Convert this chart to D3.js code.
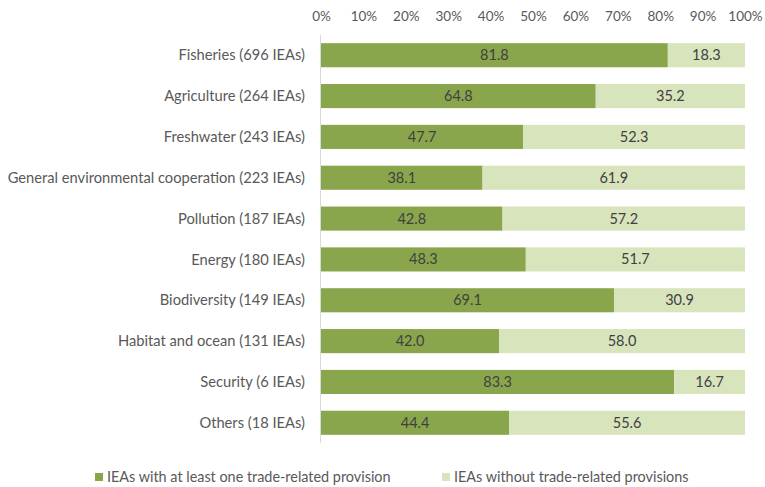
<!DOCTYPE html>
<html>
<head>
<meta charset="utf-8">
<script src="https://cdn.jsdelivr.net/npm/d3@7"></script>
<style>
  body { margin: 0; background: #fff; }
  text { font-family: Lato, "Open Sans", sans-serif; }
</style>
</head>
<body>
<svg id="chart" width="765" height="487"></svg>
<script>
const categories = [
  "Fisheries (696 IEAs)",
  "Agriculture (264 IEAs)",
  "Freshwater (243 IEAs)",
  "General environmental cooperation (223 IEAs)",
  "Pollution (187 IEAs)",
  "Energy (180 IEAs)",
  "Biodiversity (149 IEAs)",
  "Habitat and ocean (131 IEAs)",
  "Security (6 IEAs)",
  "Others (18 IEAs)"
];
const withProvision = [81.8, 64.8, 47.7, 38.1, 42.8, 48.3, 69.1, 42.0, 83.3, 44.4];
const withoutProvision = [18.3, 35.2, 52.3, 61.9, 57.2, 51.7, 30.9, 58.0, 16.7, 55.6];
const tickValues = [0, 10, 20, 30, 40, 50, 60, 70, 80, 90, 100];
const seriesNames = ["IEAs with at least one trade-related provision", "IEAs without trade-related provisions"];
const colors = ["#8aa64d", "#d8e4bc"];

const svg = d3.select("#chart");
const x = d3.scaleLinear().domain([0, 100]).range([321, 745]);
const y = d3.scaleBand().domain(categories).range([35, 443]).paddingInner(0.41).paddingOuter(0.2);

// top percentage axis
const xAxis = svg.append("g").attr("transform", "translate(0,21)")
  .call(d3.axisTop(x).tickValues(tickValues).tickFormat(d => d + "%").tickSize(0).tickPadding(0));
xAxis.select(".domain").remove();
xAxis.selectAll("text").attr("font-size", 13.5).attr("fill", "#595959");

// category axis line
svg.append("line").attr("x1", 320.5).attr("x2", 320.5).attr("y1", 35).attr("y2", 443)
  .attr("stroke", "#d9d9d9").attr("stroke-width", 1);

const rows = categories.map((c, i) => ({ c, a: withProvision[i], b: withoutProvision[i] }));

const g = svg.append("g");
rows.forEach(r => {
  const y0 = y(r.c), h = y.bandwidth();
  const end = x(Math.min(100, r.a + r.b));
  g.append("rect").attr("x", x(0)).attr("y", y0).attr("width", x(r.a) - x(0)).attr("height", h).attr("fill", colors[0]);
  g.append("rect").attr("x", x(r.a)).attr("y", y0).attr("width", end - x(r.a)).attr("height", h).attr("fill", colors[1]);
  g.append("text").attr("x", (x(0) + x(r.a)) / 2).attr("y", y0 + h / 2).attr("dy", "0.35em")
    .attr("text-anchor", "middle").attr("font-size", 14.5).attr("fill", "#404040").text(r.a.toFixed(1));
  g.append("text").attr("x", (x(r.a) + end) / 2).attr("y", y0 + h / 2).attr("dy", "0.35em")
    .attr("text-anchor", "middle").attr("font-size", 14.5).attr("fill", "#404040").text(r.b.toFixed(1));
  svg.append("text").attr("x", 305).attr("y", y0 + h / 2).attr("dy", "0.35em")
    .attr("text-anchor", "end").attr("font-size", 14.7).attr("fill", "#595959").text(r.c);
});

// legend
const legendX = [95, 442];
seriesNames.forEach((n, i) => {
  svg.append("rect").attr("x", legendX[i]).attr("y", 473).attr("width", 8).attr("height", 8).attr("fill", colors[i]);
  svg.append("text").attr("x", legendX[i] + 12).attr("y", 477).attr("dy", "0.35em")
    .attr("font-size", 14.4).attr("fill", "#595959").text(n);
});
</script>
</body>
</html>
